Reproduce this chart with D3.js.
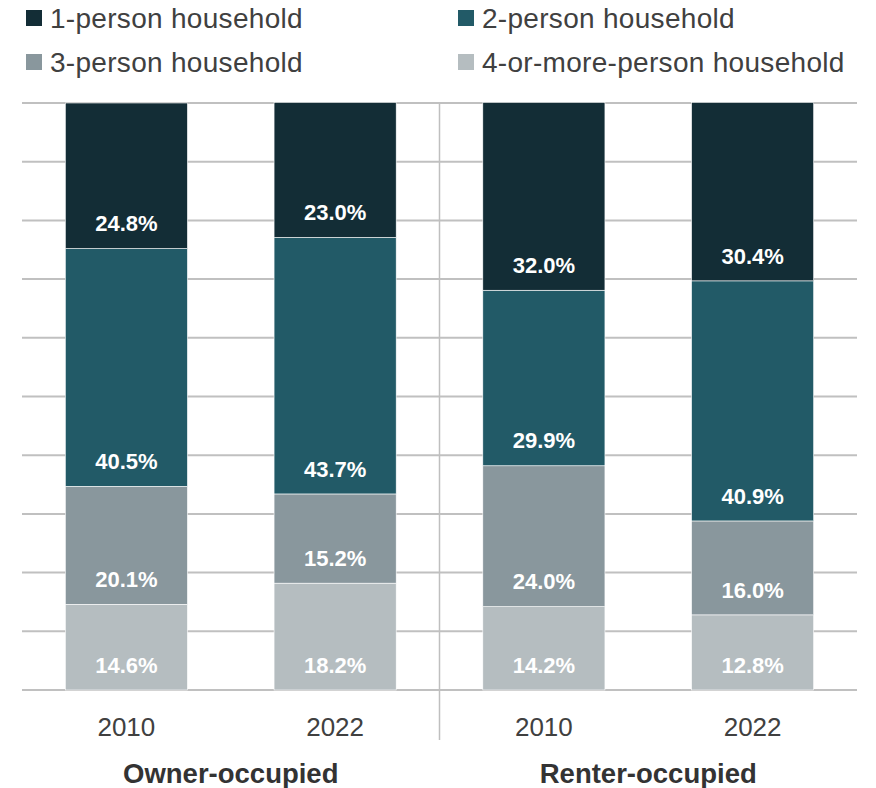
<!DOCTYPE html>
<html><head><meta charset="utf-8">
<script src="https://cdn.jsdelivr.net/npm/d3@7"></script>
<style>body{margin:0;background:#fff}svg{display:block;font-family:"Liberation Sans",Arial,sans-serif}</style>
</head><body><svg id="c" width="876" height="788"></svg>
<script>
const groups = ["Owner-occupied", "Renter-occupied"];
const years = ["2010", "2022", "2010", "2022"];
const barGroup = [0, 0, 1, 1];
const seriesNames = ["1-person household", "2-person household", "3-person household", "4-or-more-person household"];
const colors = ["#132d36", "#225a67", "#89979d", "#b5bdc0"];
const onePerson = [24.8, 23.0, 32.0, 30.4];
const twoPerson = [40.5, 43.7, 29.9, 40.9];
const threePerson = [20.1, 15.2, 24.0, 16.0];
const fourPlus = [14.6, 18.2, 14.2, 12.8];
const yTicks = [0,10,20,30,40,50,60,70,80,90,100];

const svg = d3.select("#c");
const plotL = 22, plotR = 857, plotT = 103, plotB = 690;
const ids = years.map((yv,i)=>i);
const x = d3.scaleBand().domain(ids).range([plotL, plotR]).paddingInner(0.415).paddingOuter(0.2075);
const y = d3.scaleLinear().domain([0,100]).range([plotB, plotT]);

const rows = ids.map(i => ({id:i, s3: fourPlus[i], s2: threePerson[i], s1: twoPerson[i], s0: onePerson[i]}));
const stack = d3.stack().keys(["s3","s2","s1","s0"])(rows);
const keyIdx = {s0:0,s1:1,s2:2,s3:3};

// gridlines
svg.append("g").selectAll("line").data(yTicks).join("line")
  .attr("x1", plotL).attr("x2", plotR)
  .attr("y1", d=>y(d)).attr("y2", d=>y(d))
  .attr("stroke", "#c0c0c0").attr("stroke-width", 2);

// bars
const layers = svg.append("g").selectAll("g").data(stack).join("g")
  .attr("fill", d => colors[keyIdx[d.key]]);
layers.selectAll("rect").data(d=>d).join("rect")
  .attr("x", d => x(d.data.id)).attr("width", x.bandwidth())
  .attr("y", d => y(d[1])).attr("height", d => y(d[0]) - y(d[1]))
  .attr("stroke", "#ffffff").attr("stroke-width", 0.6);

// labels
const lab = svg.append("g");
stack.forEach(layer => {
  layer.forEach(d => {
    lab.append("text")
      .attr("x", x(d.data.id) + x.bandwidth()/2)
      .attr("y", y(d[0]) - 25)
      .attr("dy", "0.35em")
      .attr("text-anchor", "middle")
      .attr("fill", "#ffffff").attr("font-weight", "700").attr("font-size", 22)
      .text((d[1]-d[0]).toFixed(1) + "%");
  });
});

// separator
const sepX = (x(1) + x.bandwidth() + x(2)) / 2;
svg.append("line").attr("x1", sepX).attr("x2", sepX).attr("y1", plotT).attr("y2", 740)
  .attr("stroke", "#bfbfbf").attr("stroke-width", 1.5);

// x labels
svg.append("g").selectAll("text").data(ids).join("text")
  .attr("x", i => x(i) + x.bandwidth()/2).attr("y", 727).attr("dy","0.35em")
  .attr("text-anchor","middle").attr("font-size", 26).attr("fill", "#404040")
  .text(i => years[i]);

// group labels
svg.append("g").selectAll("text").data(groups).join("text")
  .attr("x", (g,gi) => {
    const b = ids.filter(i=>barGroup[i]===gi);
    return (x(b[0]) + x(b[b.length-1]) + x.bandwidth())/2;
  })
  .attr("y", 773).attr("dy","0.35em")
  .attr("text-anchor","middle").attr("font-size", 27.5).attr("font-weight","700").attr("fill", "#333333")
  .text(g=>g);

// legend
const legPos = [[26,18],[458,18],[26,62],[458,62]];
const leg = svg.append("g").selectAll("g").data(seriesNames).join("g")
  .attr("transform", (d,i)=>`translate(${legPos[i][0]},${legPos[i][1]})`);
leg.append("rect").attr("x",0).attr("y",-8).attr("width",16).attr("height",16)
  .attr("fill",(d,i)=>colors[i]);
leg.append("text").attr("x",24).attr("y",0).attr("dy","0.35em")
  .attr("font-size",28).attr("letter-spacing",0.3).attr("fill","#404040").text(d=>d);
</script></body></html>
